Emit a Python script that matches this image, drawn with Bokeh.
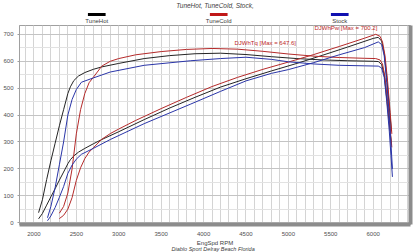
from bokeh.plotting import figure
from bokeh.layouts import column
from bokeh.models import (Label, LinearAxis, SingleIntervalTicker, FixedTicker, Range1d)
from bokeh.core.properties import value
from bokeh.embed import file_html
from bokeh.resources import INLINE

# ---------------- data ----------------
runs = ["TuneHot", "TuneCold", "Stock"]
run_colors = ["#242424", "#b52a2a", "#2a35a8"]
legend_colors = ["#000000", "#c01818", "#1010b0"]

hot_rpm = [2055, 2100, 2150, 2200, 2250, 2300, 2350, 2400, 2430, 2470, 2525, 2600, 2700,
           2800, 3000, 3300, 3600, 3900, 4200, 4500, 4800, 5100, 5400, 5700, 6000, 6060,
           6100, 6130, 6160, 6190, 6215]
hot_tq = [37, 85, 160, 230, 295, 360, 420, 480, 505, 528, 545, 558, 570,
          579, 592, 610, 621, 628, 630, 625, 617, 610, 605, 602, 600, 599,
          588, 550, 460, 370, 290]
hot_hp = [14, 34, 65, 96, 126, 158, 188, 219, 234, 248, 262, 276, 293,
          309, 338, 383, 426, 466, 504, 535, 564, 592, 622, 653, 685, 689,
          675, 630, 540, 430, 340]

cold_rpm = [2300, 2350, 2400, 2450, 2500, 2550, 2600, 2650, 2700, 2800, 2900, 3000, 3200,
            3500, 3800, 4100, 4400, 4700, 5000, 5300, 5600, 5900, 6030, 6080, 6110,
            6140, 6170, 6200, 6220]
cold_tq = [35, 60, 110, 200, 330, 420, 480, 520, 540, 582, 600, 610, 624,
           636, 644, 647.6, 645, 637, 627, 619, 614, 611, 610, 605, 590,
           540, 450, 350, 280]
cold_hp = [15, 27, 50, 93, 157, 204, 238, 262, 278, 310, 331, 348, 380,
           424, 466, 506, 540, 570, 597, 625, 655, 686, 700.2, 693, 672,
           620, 525, 410, 330]

stock_rpm = [2160, 2200, 2250, 2300, 2350, 2400, 2450, 2500, 2560, 2700, 2900, 3300, 3850,
             4200, 4500, 4800, 5000, 5300, 5600, 5900, 6060, 6100, 6130, 6160, 6190, 6227]
stock_tq = [18, 60, 130, 215, 300, 400, 458, 495, 522, 538, 560, 585, 602,
            610, 615, 607, 598, 590, 585, 583, 582, 575, 540, 450, 340, 170]
stock_hp = [7, 25, 56, 94, 134, 183, 214, 236, 254, 276, 309, 368, 441,
            488, 527, 555, 569, 595, 624, 651, 672, 662, 620, 520, 400, 200]

x_ticks_interval = 500
y_ticks_interval = 100
title_text = "TuneHot, TuneCold, Stock,"
x_label = "EngSpd RPM"
footer_text = "Diablo Sport Delray Beach Florida"
tq_note = "DJWhTq [Max = 647.6]"
pw_note = "DJWhPw [Max = 700.2]"

FONT = "Liberation Sans"
W = 420

# ---------------- header strip (title + legend), canvas-pixel coordinates ----------------
H_TOP = 24
top = figure(width=W, height=H_TOP, output_backend="svg", toolbar_location=None,
             x_range=Range1d(0, W), y_range=Range1d(H_TOP, 0), min_border=0)
top.axis.visible = False
top.grid.visible = False
top.outline_line_color = None
top.text(x=[210], y=[5], text=[title_text], text_font=value(FONT), text_font_size="6.5px",
         text_font_style="italic", text_color="#404040", text_align="center", text_baseline="middle")
legend_cx = [83, 214, 344]
top.quad(left=[c - 9.5 for c in legend_cx], right=[c + 9.5 for c in legend_cx],
         top=[12.5] * 3, bottom=[15.5] * 3, fill_color=legend_colors, line_color=None)
top.text(x=legend_cx, y=[20.5] * 3, text=runs, text_font=value(FONT), text_font_size="6px",
         text_color="#404040", text_align="center", text_baseline="middle")

# ---------------- main chart ----------------
X0, X1 = 1830, 6440
Y0, Y1 = -7, 733
H_MAIN = 214  # canvas rows 24..238; frame 25..227

p = figure(width=W, height=H_MAIN, output_backend="svg", toolbar_location=None,
           x_range=Range1d(X0, X1), y_range=Range1d(Y0, Y1),
           min_border_left=18, min_border_right=10, min_border_top=1,
           min_border_bottom=11)
p.background_fill_color = "white"
p.border_fill_color = "white"
p.outline_line_color = "#a0a0a0"
p.outline_line_width = 1

# x axis
p.xaxis.ticker = SingleIntervalTicker(interval=x_ticks_interval, num_minor_ticks=5)
p.xaxis.axis_line_color = "#8c8c8c"
p.xaxis.axis_line_width = 4
p.xaxis.major_tick_out = 0
p.xaxis.major_tick_in = 0
p.xaxis.minor_tick_line_color = None
p.xaxis.major_label_text_font = FONT
p.xaxis.major_label_text_font_size = "6px"
p.xaxis.major_label_text_color = "#505050"
p.xaxis.major_label_standoff = 3

# y axis
p.yaxis.ticker = SingleIntervalTicker(interval=y_ticks_interval, num_minor_ticks=2)
p.yaxis.axis_line_color = "#a0a0a0"
p.yaxis.major_tick_out = 2
p.yaxis.major_tick_in = 0
p.yaxis.major_tick_line_color = "#a0a0a0"
p.yaxis.minor_tick_line_color = None
p.yaxis.major_label_text_font = FONT
p.yaxis.major_label_text_font_size = "6px"
p.yaxis.major_label_text_color = "#505050"
p.yaxis.major_label_standoff = 2

# right "shadow" axis
ra = LinearAxis(ticker=FixedTicker(ticks=[]), axis_line_color="#8c8c8c", axis_line_width=4,
                major_tick_line_color=None, minor_tick_line_color=None)
p.add_layout(ra, "right")

# grids
p.xgrid.grid_line_color = "#d4d4d4"
p.xgrid.minor_grid_line_color = "#d4d4d4"
p.ygrid.grid_line_color = "#c4c4c4"
p.ygrid.minor_grid_line_color = "#e2e2e2"

# curves
series = [(hot_rpm, hot_tq, hot_hp), (cold_rpm, cold_tq, cold_hp), (stock_rpm, stock_tq, stock_hp)]
for (rpm, tq, hp), c in zip(series, run_colors):
    p.line(rpm, tq, line_color=c, line_width=1)
    p.line(rpm, hp, line_color=c, line_width=1)

# in-plot notes (screen offsets from frame's lower-left)
FL, FB_ = 18, 227
for txt, sx, sy in [(tq_note, 233, 45), (pw_note, 313, 30)]:
    p.add_layout(Label(x=sx - FL, y=FB_ - sy, x_units="screen", y_units="screen",
                       text=txt, text_font=FONT, text_font_size="6px", text_color="#c02828",
                       text_align="left", text_baseline="middle"))

# ---------------- footer strip (axis title + credit line) ----------------
Y_BOT0 = H_TOP + H_MAIN
H_BOT = 252 - Y_BOT0
bot = figure(width=W, height=H_BOT, output_backend="svg", toolbar_location=None,
             x_range=Range1d(0, W), y_range=Range1d(252, Y_BOT0), min_border=0)
bot.axis.visible = False
bot.grid.visible = False
bot.outline_line_color = None
bot.text(x=[210], y=[242], text=[x_label], text_font=value(FONT), text_font_size="6px",
         text_color="#404040", text_align="center", text_baseline="middle")
bot.text(x=[208], y=[248.5], text=[footer_text], text_font=value(FONT), text_font_size="5.5px",
         text_font_style="italic", text_color="#404040", text_align="center", text_baseline="middle")

layout = column(top, p, bot, spacing=0)
open("out.html", "w").write(file_html(layout, INLINE))
